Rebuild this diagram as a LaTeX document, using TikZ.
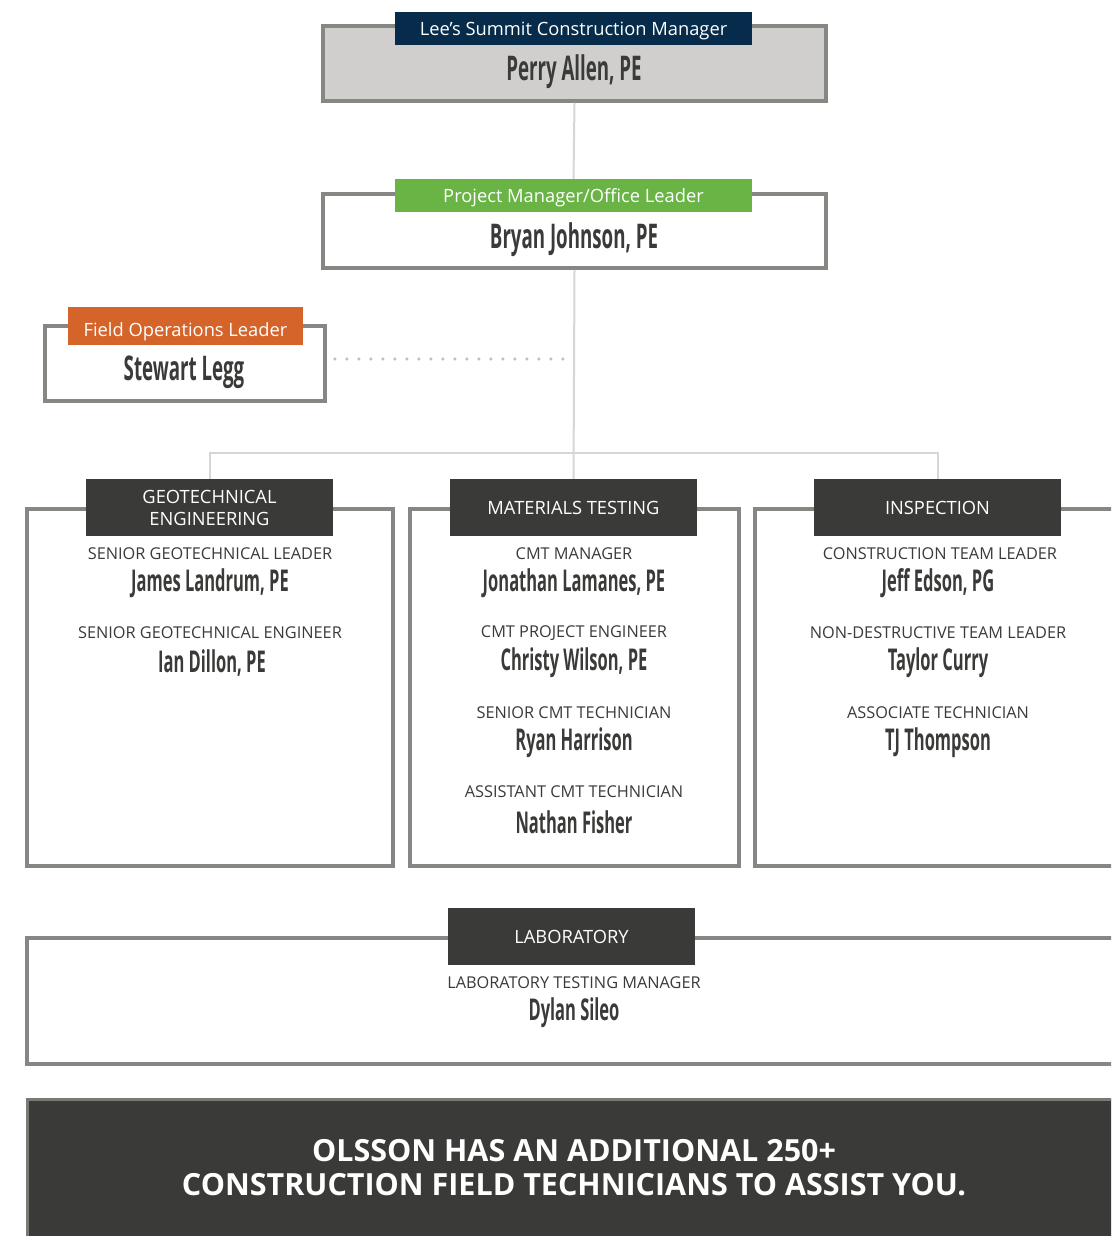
\documentclass[tikz,border=0pt]{standalone}
\usepackage{fontspec}
\usepackage{xcolor}
\usepackage{tikz}
\setmainfont{Open Sans}
\newfontfamily\namefont[FakeStretch=0.55]{Open Sans}

\definecolor{navy}{HTML}{062B4B}
\definecolor{leafgreen}{HTML}{6AB446}
\definecolor{rust}{HTML}{D5642B}
\definecolor{charcoal}{HTML}{3A3B38}
\definecolor{boxgray}{HTML}{868682}
\definecolor{paleGray}{HTML}{D0CFCD}
\definecolor{wireGray}{HTML}{D6D6D6}

\begin{document}
\begin{tikzpicture}[x=1pt, y=-1pt]
    % Define the style for the nodes
    \tikzstyle{box} = [draw=boxgray, line width=3.5pt, fill=white, inner sep=0pt]
    \tikzstyle{banner} = [fill=charcoal, text=white, inner sep=0pt, align=center, font=\fontsize{18.3}{22}\selectfont]
    \tikzstyle{headline} = [banner, font=\fontsize{18.3}{20}\selectfont, text height=14pt, text depth=0pt, minimum width=357, minimum height=33]
    \tikzstyle{bigperson} = [text=charcoal, font=\namefont\bfseries\fontsize{34}{36}\selectfont]
    \tikzstyle{person} = [text=charcoal, font=\namefont\bfseries\fontsize{30}{32}\selectfont]
    \tikzstyle{role} = [text=charcoal, font=\fontsize{16.3}{18}\selectfont]
    \tikzstyle{line} = [draw=wireGray, line width=2pt]
    \tikzstyle{dots} = [draw=wireGray!90!black, line width=3.5pt, line cap=round, dash pattern=on 0pt off 12pt]

    \clip (0,0) rectangle (1111,1236);

    % Place the nodes
    \node [box, fill=paleGray, minimum width=503, minimum height=75] (perry) at (574.5,63.5) {};
    \node [headline, fill=navy] (cmlabel) at (573.5,28.5) {Lee’s Summit Construction Manager};
    \node [bigperson] (perryname) at (574,72) {Perry Allen, PE};

    \node [box, minimum width=503, minimum height=74] (bryan) at (574.5,231) {};
    \node [headline, fill=leafgreen] (pmlabel) at (573.5,195.5) {Project Manager/Office Leader};
    \node [bigperson] (bryanname) at (574,240) {Bryan Johnson, PE};

    \node [box, minimum width=280, minimum height=75] (legg) at (185,363.5) {};
    \node [headline, fill=rust, text height=20pt, minimum width=235, minimum height=38] (fieldlabel) at (185.5,326) {Field Operations Leader};
    \node [bigperson] (leggname) at (184,372) {Stewart Legg};

    % the three groups
    \node [box, minimum width=366, minimum height=357] (geo) at (210,687.5) {};
    \node [box, minimum width=329, minimum height=357] (mat) at (574.5,687.5) {};
    \node [box, minimum width=370, minimum height=357] (insp) at (940,687.5) {};
    \node [banner, minimum width=247, minimum height=57] (geolabel) at (209.5,507.5) {GEOTECHNICAL\\ENGINEERING};
    \node [banner, minimum width=247, minimum height=57] (matlabel) at (573.5,507.5) {MATERIALS TESTING};
    \node [banner, minimum width=247, minimum height=57] (insplabel) at (937.5,507.5) {INSPECTION};

    \node [role] (georole1) at (210,554) {SENIOR GEOTECHNICAL LEADER};
    \node [person] (geoname1) at (210,583) {James Landrum, PE};
    \node [role] (georole2) at (210,633) {SENIOR GEOTECHNICAL ENGINEER};
    \node [person] (geoname2) at (212,663) {Ian Dillon, PE};

    \node [role] (matrole1) at (574,554) {CMT MANAGER};
    \node [person] (matname1) at (574,583) {Jonathan Lamanes, PE};
    \node [role] (matrole2) at (574,633) {CMT PROJECT ENGINEER};
    \node [person] (matname2) at (574,663) {Christy Wilson, PE};
    \node [role] (matrole3) at (574,713) {SENIOR CMT TECHNICIAN};
    \node [person] (matname3) at (574,743) {Ryan Harrison};
    \node [role] (matrole4) at (574,792) {ASSISTANT CMT TECHNICIAN};
    \node [person] (matname4) at (574,822) {Nathan Fisher};

    \node [role] (insprole1) at (940,554) {CONSTRUCTION TEAM LEADER};
    \node [person] (inspname1) at (938,583) {Jeff Edson, PG};
    \node [role] (insprole2) at (938,633) {NON-DESTRUCTIVE TEAM LEADER};
    \node [person] (inspname2) at (938,663) {Taylor Curry};
    \node [role] (insprole3) at (938,713) {ASSOCIATE TECHNICIAN};
    \node [person] (inspname3) at (938,743) {TJ Thompson};

    % laboratory
    \node [box, minimum width=1098, minimum height=126] (lab) at (576,1001) {};
    \node [banner, minimum width=247, minimum height=57] (lablabel) at (571.5,936.5) {LABORATORY};
    \node [role] (labrole) at (574,983) {LABORATORY TESTING MANAGER};
    \node [person] (labname) at (574,1013) {Dylan Sileo};

    % closing note
    \node [box, draw=boxgray!90!black, line width=3pt, fill=charcoal, minimum width=1098, minimum height=146] (note) at (576,1172) {};
    \node [text=white, align=center, font=\bfseries\fontsize{30.5}{34}\selectfont] (notetext) at (574,1168)
        {OLSSON HAS AN ADDITIONAL 250+\\CONSTRUCTION FIELD TECHNICIANS TO ASSIST YOU.};

    % Connect the nodes with paths
    \coordinate (split) at (574,453);
    \coordinate (trunk) at (574,359);
    \path [line] (perry.south) -- (pmlabel.north);
    \path [line] (bryan.south) -- (matlabel.north);
    \path [line] (geolabel.north) |- (split) -| (insplabel.north);
    \path [dots] ([xshift=8pt, yshift=4.5pt]legg.east) -- (trunk);

\end{tikzpicture}
\end{document}
